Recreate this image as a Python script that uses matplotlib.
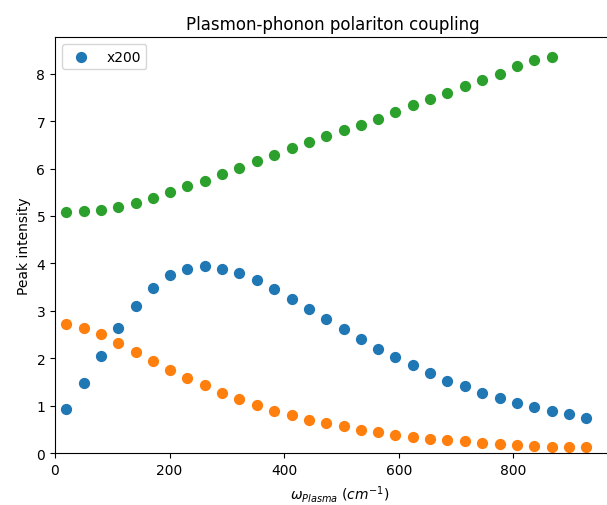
import numpy as np
import matplotlib
matplotlib.use('Agg')
import matplotlib.pyplot as plt

# plasma frequency (cm^-1)
w_plasma = [20, 50, 80, 110, 141, 171, 201, 231, 262, 292, 322, 352, 383, 413, 443, 473,
            504, 534, 564, 594, 625, 655, 685, 716, 746, 776, 806, 837, 867, 897, 927]

# peak intensities
peak_x200 = [0.93, 1.48, 2.06, 2.63, 3.11, 3.49, 3.76, 3.89, 3.94, 3.89, 3.80, 3.65, 3.47,
             3.25, 3.04, 2.83, 2.61, 2.40, 2.19, 2.02, 1.86, 1.69, 1.52, 1.41, 1.28, 1.16,
             1.07, 0.98, 0.90, 0.82, 0.74]
peak_low = [2.73, 2.65, 2.51, 2.32, 2.13, 1.94, 1.76, 1.59, 1.43, 1.28, 1.14, 1.01, 0.90,
            0.80, 0.71, 0.64, 0.57, 0.50, 0.44, 0.39, 0.34, 0.31, 0.27, 0.25, 0.22, 0.20,
            0.17, 0.15, 0.14, 0.13, 0.13]
peak_high = [5.08, 5.10, 5.12, 5.19, 5.28, 5.38, 5.51, 5.63, 5.74, 5.89, 6.01, 6.15, 6.29,
             6.43, 6.55, 6.69, 6.81, 6.92, 7.05, 7.19, 7.33, 7.47, 7.60, 7.73, 7.87, 8.00,
             8.17, 8.28, 8.36]

fig = plt.figure(figsize=(6.07, 5.06), dpi=100)
# right edge of the axes falls outside the picture (as in the original crop)
ax = fig.add_axes([0.0906, 0.1022, 0.939, 0.8227])

ax.scatter(w_plasma, peak_x200, s=50, label='x200')
ax.scatter(w_plasma, peak_low, s=50)
ax.scatter(w_plasma[:len(peak_high)], peak_high, s=50)

ax.set_xlim(0, 995)
ax.set_ylim(bottom=0)
ax.spines['right'].set_visible(False)
ax.set_title('Plasmon-phonon polariton coupling', x=0.4867)
ax.set_xlabel(r'$\omega_{Plasma}\ (cm^{-1})$')
ax.set_ylabel('Peak intensity')
ax.legend(loc='upper left')

plt.savefig('out.png', dpi=100)
plt.close()
